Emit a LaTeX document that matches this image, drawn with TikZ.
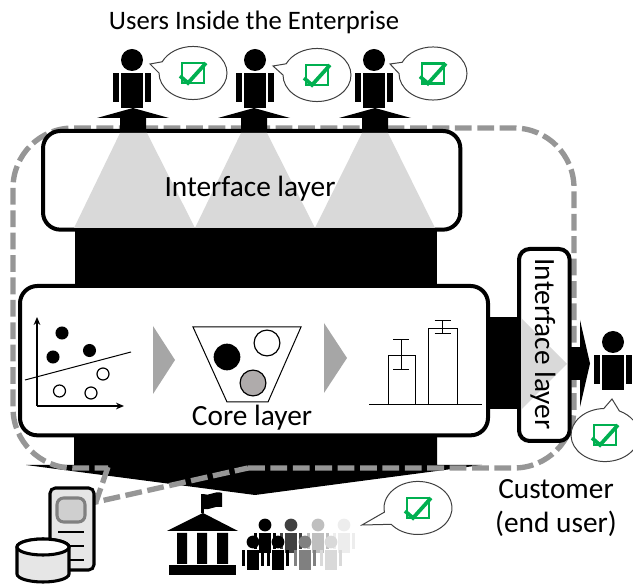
\documentclass[tikz,border=0pt]{standalone}
\usepackage{fontspec}
\setmainfont{Carlito}
\usetikzlibrary{arrows.meta}
\definecolor{dashgrey}{HTML}{969696}
\definecolor{tri}{HTML}{D9D9D9}
\definecolor{chev}{HTML}{A6A6A6}
\definecolor{okgreen}{HTML}{00B050}
\definecolor{srv}{HTML}{E6E6E6}
\definecolor{coin}{HTML}{AFABAB}
\tikzset{
  layerbox/.style={draw=black,line width=3pt,fill=white,rounded corners=13pt,inner sep=0pt},
  lbl/.style={font=\fontsize{22}{26}\selectfont,text=black,inner sep=0pt},
  thin line/.style={draw=black,line width=0.75pt},
  dot/.style={draw=black,line width=0.9pt,fill=white},
}
\newcommand\bigman[2]{%
  \begin{scope}[shift={(#1,#2)}]
    \fill (0,0) circle[radius=8.25pt];
    \fill (-11,13) rectangle (11,48);
    \fill (-19,13) rectangle (-13,42);
    \fill (13,13) rectangle (19,42);
  \end{scope}}
\newcommand\smallman[3]{%
  \begin{scope}[shift={(#1,#2)},scale=0.58]
    \fill[#3] (0,0) circle[radius=8.25pt];
    \fill[#3] (-11,13) rectangle (11,48);
    \fill[#3] (-19,13) rectangle (-13,42);
    \fill[#3] (13,13) rectangle (19,42);
  \end{scope}}
% cx cy tipx tipy startangle endangle
\newcommand\speech[6]{%
  \draw[draw=black!75,line width=0.75pt,fill=white,line join=miter]
    (#3,#4) -- ({#1+34*cos(#5)},{#2-26.5*sin(#5)})
    arc[x radius=25.5pt,y radius=19.9pt,start angle=#5,end angle=#6] -- cycle;
  \draw[okgreen,line width=2pt] ({#1-11},{#2-10}) rectangle ({#1+11},{#2+10});
  \draw[okgreen,line width=2.8pt] ({#1-13},{#2+3}) -- ({#1-5},{#2+10}) -- ({#1+13},{#2-10});}
\begin{document}
\begin{tikzpicture}[x=0.75pt,y=-0.75pt]
\useasboundingbox (0,0) rectangle (633,584);
% black trunks and arrows
\fill (75,228) rectangle (437,290);
\fill (74,430) -- (437,430) -- (437,465) -- (482,465) -- (255,495) -- (26,465) -- (74,465) -- cycle;
\fill (485,317) rectangle (520,409);
% dashed boundary
\draw[dashgrey,line width=4pt,dash pattern=on 12.6pt off 4.2pt,rounded corners=45pt]
  (248,468) -- (574,468) -- (574,128) -- (13,128) -- (13,468) -- (108,468);
\draw[dashgrey,line width=4pt,dash pattern=on 12.6pt off 4.2pt]
  (108,467) -- (96,502) -- (248,468);
% boxes
\node[layerbox,minimum width=313pt,minimum height=74pt,anchor=north west] (iface) at (41,129) {};
\node[layerbox,minimum width=351pt,minimum height=112pt,anchor=north west] (core) at (18,284) {};
% grey projections
\fill[tri] (120,133) -- (147,133) -- (195,228) -- (74,228) -- cycle;
\fill[tri] (241,133) -- (267,133) -- (315,228) -- (195,228) -- cycle;
\fill[tri] (362,133) -- (388,133) -- (435,228) -- (315,228) -- cycle;
\node[lbl] (ifacetxt) at (250,189) {Interface layer};
% top arrows
\foreach \c in {133,254,375}{
  \fill ({\c-13},131) -- ({\c-13},118) -- ({\c-36},118) -- (\c,108) -- ({\c+36},118) -- ({\c+13},118) -- ({\c+13},131) -- cycle;
}
\bigman{132}{60}\bigman{255}{60}\bigman{374}{60}
\speech{193}{73}{150}{64}{180}{515}
\speech{317}{75}{273}{66}{180}{515}
\speech{433}{73.5}{390}{64}{180}{515}
\node[lbl,font=\fontsize{20}{24}\selectfont] (title) at (254,22) {Users Inside the Enterprise};
% scatter chart
\draw[line width=0.9pt,-{Stealth[length=6pt,width=5pt]}] (37,406) -- (37,317);
\draw[line width=0.9pt,-{Stealth[length=6pt,width=5pt]}] (37,406) -- (124,406);
\draw[thin line] (25,380) -- (131,352);
\fill (62,333) circle[radius=4.9pt] (53,357) circle[radius=4.9pt] (89.5,350.5) circle[radius=4.9pt];
\draw[dot] (59.5,391) circle[radius=4.5pt] (91,393) circle[radius=4.5pt] (103,374) circle[radius=4.5pt];
\fill[chev] (153,326) -- (175,360) -- (153,394) -- cycle;
% funnel
\draw[thin line] (193,327) -- (301,327) -- (268,402) -- (227,402) -- cycle;
\fill (227,357) circle[radius=10pt];
\draw[dot] (267,343) circle[radius=9.7pt];
\draw[dot,fill=coin] (253,383) circle[radius=9.7pt];
\fill[chev] (324,323) -- (347,358) -- (324,393) -- cycle;
\node[lbl] (coretxt) at (252,418) {Core layer};
% bar chart
\draw[thin line] (369,405) -- (482,405);
\draw[thin line] (388,405) -- (388,356) -- (415.5,356) -- (415.5,405);
\draw[thin line] (428,405) -- (428,329) -- (457,329) -- (457,405);
\draw[thin line] (393,340) -- (409,340) (401,340) -- (401,370) (393,370) -- (409,370);
\draw[thin line] (434.5,321) -- (450.5,321) (442.5,321) -- (442.5,334) (434.5,334) -- (450.5,334);
% right side
\fill (566,347) rectangle (581,380);
\fill (580,320) -- (590,363.5) -- (580,407) -- cycle;
\node[layerbox,rounded corners=8pt,minimum width=38pt,minimum height=144pt,anchor=north west] (vface) at (517,247) {};
\fill[tri] (521,318) -- (567,364) -- (521,410) -- cycle;
\node[lbl,rotate=-90] (vtxt) at (543,344) {Interface layer};
\fill (569,347) rectangle (581,380);
\bigman{613}{342}
\speech{605}{435}{612}{399}{92}{425}
\node[lbl,align=center,font=\fontsize{22}{25.5}\selectfont] (cust) at (556,508) {Customer\\(end user)};
% server and database
\draw[black,line width=2.3pt,fill=srv,rounded corners=4pt] (50,488) rectangle (94,570);
\draw[gray,line width=2.3pt,fill=srv!90!black,rounded corners=5pt] (57,498) rectangle (85,522);
\draw[black,line width=1pt] (58,532) -- (84,532) (58,546) -- (84,546) (58,560) -- (84,560);
\draw[black,line width=2.3pt,fill=srv]
  (17,547) -- (17,574) arc[x radius=19.5pt,y radius=6pt,start angle=180,end angle=360]
  -- (69,547) arc[x radius=19.5pt,y radius=6pt,start angle=0,end angle=180] -- cycle;
\draw[black,line width=2.3pt,fill=white] (43,547) ellipse[x radius=19.5pt,y radius=6pt];
% bank
\fill (167,531) -- (203,513) -- (238,531) -- cycle;
\fill (177,533) rectangle (187,564) (197,533) rectangle (207,564) (217,533) rectangle (228,564);
\fill (169,565) rectangle (236,575);
\fill (201,494) rectangle (204,513);
\fill (203,494) .. controls (209,497) and (215,490) .. (222,493) -- (222,507) .. controls (215,505) and (209,511) .. (203,509) -- cycle;
% people
\smallman{344}{525}{black!7}
\smallman{318}{525}{black!25}
\smallman{291}{525}{black!75}
\smallman{265}{525}{black}
\smallman{331}{542}{black!15}
\smallman{305}{542}{black!50}
\smallman{278}{542}{black}
\smallman{253}{542}{black}
\speech{418}{508}{362}{525}{218}{549}
\end{tikzpicture}
\end{document}
